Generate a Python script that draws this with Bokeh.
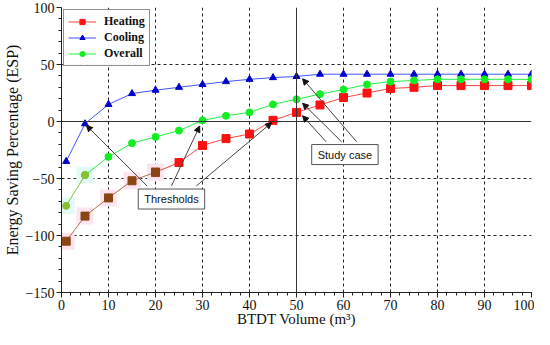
from bokeh.plotting import figure
from bokeh.models import (Range1d, Span, Label, Arrow, NormalHead, SingleIntervalTicker,
                          FixedTicker, Legend)
from bokeh.embed import file_html
from bokeh.resources import INLINE

# ---- data ----
volume = [1, 5, 10, 15, 20, 25, 30, 35, 40, 45, 50, 55, 60, 65, 70, 75, 80, 85, 90, 95, 100]
heating = [-105, -83, -67, -52, -44.5, -36, -21, -15, -11, 1, 8, 14.5, 21, 25, 29, 30,
           31.5, 31.5, 31.5, 31.5, 31.5]
cooling = [-35, -2, 15, 24.5, 27.5, 30, 32.5, 35, 37, 38.5, 39.5, 41.5, 41.5, 41.5, 41.5,
           41.5, 41.5, 41.5, 41.5, 41.5, 41.5]
overall = [-74, -47, -31, -19, -13.5, -8, 1, 5, 8, 15, 19.5, 24, 28, 32.5, 35, 36,
           37, 37, 37, 37, 37]
x_ticks = [0, 10, 20, 30, 40, 50, 60, 70, 80, 90, 100]
y_ticks = [-150, -100, -50, 0, 50, 100]
study_idx = 10
heat_thr_idx, cool_thr_idx, over_thr_idx = 9, 1, 6

SERIF = "Liberation Serif"

p = figure(width=534, height=329, output_backend="svg", toolbar_location=None,
           x_range=Range1d(0, 100), y_range=Range1d(-150, 100),
           min_border_left=0, min_border_right=3, min_border_top=7, min_border_bottom=0)
p.outline_line_color = None
p.background_fill_color = "white"

# axes
for ax in (p.xaxis[0], p.yaxis[0]):
    ax.axis_line_color = "#222222"
    ax.major_tick_line_color = "#222222"
    ax.minor_tick_line_color = "#222222"
    ax.major_tick_out = 5
    ax.major_tick_in = 0
    ax.minor_tick_out = 3
    ax.minor_tick_in = 0
    ax.major_label_text_font = SERIF
    ax.major_label_text_font_size = "14px"
    ax.major_label_text_color = "#111111"
    ax.axis_label_text_font = SERIF
    ax.axis_label_text_font_style = "normal"
    ax.axis_label_text_color = "#111111"

p.xaxis.axis_label_text_font_size = "15px"
p.yaxis.axis_label_text_font_size = "16px"
p.xaxis.ticker = SingleIntervalTicker(interval=10, num_minor_ticks=5)
p.yaxis.ticker = SingleIntervalTicker(interval=50, num_minor_ticks=5)
p.xaxis.axis_label = "BTDT Volume (m³)"
p.yaxis.axis_label = "Energy Saving Percentage (ESP)"
p.xaxis.axis_label_standoff = -2
p.yaxis.axis_label_standoff = 2
p.xaxis.major_label_standoff = 2
p.yaxis.major_label_standoff = 2

p.xgrid.ticker = FixedTicker(ticks=[t for t in x_ticks if t not in (0, 50, 100)])
p.ygrid.ticker = FixedTicker(ticks=[t for t in y_ticks if t not in (0, -150, 100)])
for g in (p.xgrid[0], p.ygrid[0]):
    g.grid_line_color = "#222222"
    g.grid_line_dash = "3 3"
    g.grid_line_width = 1

p.add_layout(Span(location=0, dimension="width", line_color="#333333", line_width=1))
p.add_layout(Span(location=50, dimension="height", line_color="#333333", line_width=1))

# faint highlight artefacts behind early points
p.scatter(volume[:5], heating[:5], marker="square", size=17, fill_color="#FCE4F1",
          line_color=None)
p.scatter(volume[:2], overall[:2], marker="square", size=17, fill_color="#E2FBF7",
          line_color=None)

# series
r_h_line = p.line(volume[4:], heating[4:], line_color="#FF4444", line_width=1)
p.line(volume[:5], heating[:5], line_color="#B5704A", line_width=1)
r_h_pts = p.scatter(volume[4:], heating[4:], marker="square", size=8,
                    fill_color="#FF1111", line_color="#FF1111")
p.scatter(volume[:5], heating[:5], marker="square", size=8,
          fill_color="#8B4513", line_color="#8B4513")

r_c_line = p.line(volume, cooling, line_color="#4455FF", line_width=1)
r_c_pts = p.scatter(volume, cooling, marker="triangle", size=7,
                    fill_color="#0000CC", line_color="#0000CC")

r_o_line = p.line(volume[1:], overall[1:], line_color="#22EE44", line_width=1)
p.line(volume[:2], overall[:2], line_color="#88C040", line_width=1)
r_o_pts = p.scatter(volume[1:], overall[1:], marker="circle", size=7,
                    fill_color="#11EE22", line_color="#11EE22")
p.scatter(volume[:2], overall[:2], marker="circle", size=7,
          fill_color="#88C030", line_color="#88C030")

legend = Legend(items=[("Heating", [r_h_line, r_h_pts]),
                       ("Cooling", [r_c_line, r_c_pts]),
                       ("Overall", [r_o_line, r_o_pts])],
                location="top_left")
legend.label_text_font = SERIF
legend.label_text_font_style = "bold"
legend.label_text_font_size = "12px"
legend.label_text_color = "#111111"
legend.border_line_color = "#222222"
legend.border_line_width = 1
legend.glyph_width = 28
legend.glyph_height = 13
legend.label_height = 13
legend.spacing = 1
legend.padding = 4
legend.margin = 2
legend.label_standoff = 8
p.add_layout(legend)

# annotations
def arrow(xs, ys, xe, ye):
    p.add_layout(Arrow(end=NormalHead(size=6, fill_color="#111111", line_color="#111111"),
                       x_start=xs, y_start=ys, x_end=xe, y_end=ye,
                       line_color="#444444", line_width=1))

arrow(18.2, -56.5, volume[cool_thr_idx] + 0.3, cooling[cool_thr_idx] - 1.5)
arrow(23.4, -56.5, volume[over_thr_idx] - 0.6, overall[over_thr_idx] - 5)
arrow(28.7, -56.5, volume[heat_thr_idx] - 0.3, heating[heat_thr_idx] - 2)

arrow(56.3, -17.8, volume[study_idx] + 1.3, heating[study_idx] - 3)
arrow(59.6, -17.8, volume[study_idx] + 1.3, overall[study_idx] - 3.5)
arrow(62.8, -17.8, volume[study_idx] + 1.3, cooling[study_idx] - 2)

lbl_style = dict(text_font="Liberation Sans", text_font_size="11px", text_color="#111111",
                 text_align="center", text_baseline="middle",
                 background_fill_color="white", border_line_color="#555555",
                 border_line_width=1)
p.add_layout(Label(x=23.4, y=-68, text="Thresholds", padding=(6, 4), **lbl_style))
p.add_layout(Label(x=60.3, y=-29, text="Study case", padding=(6, 4), **lbl_style))

open("out.html", "w").write(file_html(p, INLINE))
